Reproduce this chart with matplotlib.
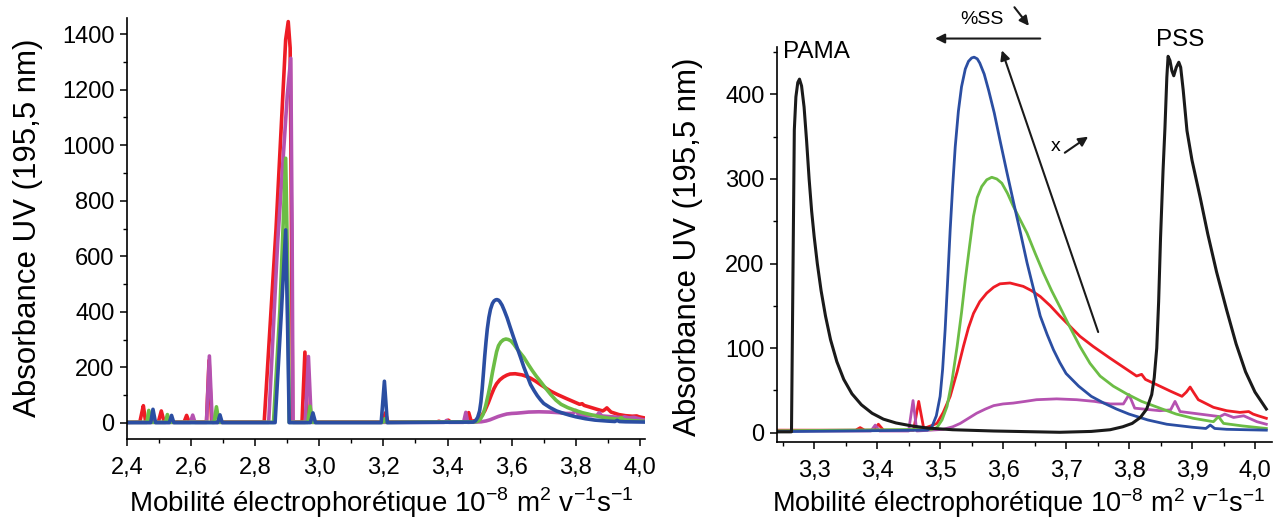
import matplotlib
matplotlib.use('Agg')
import matplotlib.pyplot as plt
from matplotlib.ticker import MultipleLocator, FuncFormatter

plt.rcParams['font.family'] = ['Liberation Sans', 'DejaVu Sans']
plt.rcParams['mathtext.fontset'] = 'custom'
plt.rcParams['mathtext.rm'] = 'Liberation Sans'

# electropherograms (mobility, absorbance)
red_x = [2.400, 2.440, 2.445, 2.451, 2.458, 2.498, 2.507, 2.516, 2.578, 2.586, 2.594,
         2.648, 2.656, 2.664, 2.828, 2.865, 2.895, 2.903, 2.909, 2.913, 2.917,
         2.946, 2.955, 2.963, 3.196, 3.206, 3.214, 3.366, 3.373, 3.380, 3.395, 3.402, 3.410,
         3.458, 3.466, 3.474, 3.485, 3.495, 3.505, 3.516, 3.527, 3.537, 3.545, 3.553,
         3.563, 3.574, 3.585, 3.595, 3.611, 3.632, 3.645, 3.659, 3.675, 3.690, 3.706,
         3.722, 3.743, 3.770, 3.796, 3.812, 3.820, 3.826, 3.849, 3.866, 3.884,
         3.891, 3.897, 3.903, 3.910, 3.934, 3.955, 3.976, 3.990, 3.997, 4.005, 4.018]
red_y = [2, 3, 30, 62, 4, 4, 43, 3, 3, 27, 3,
         3, 225, 3, 3, 700, 1380, 1445, 1350, 700, 3,
         3, 255, 3, 3, 36, 3, 3, 6, 3, 3, 10, 3,
         3, 37, 5, 8, 11, 24, 43, 72, 102, 124, 141,
         155, 165, 172, 176, 177, 173, 168, 161, 150, 138, 126,
         114, 102, 88, 75, 67, 69, 63, 55, 49, 43,
         48, 54, 47, 39, 30, 26, 24, 25, 22, 20, 17]

magenta_x = [2.400, 2.598, 2.605, 2.612, 2.648, 2.657, 2.666, 2.842, 2.870, 2.900,
             2.911, 2.915, 2.918, 2.956, 2.966, 2.975, 3.390, 3.397, 3.404, 3.450,
             3.457, 3.463, 3.485, 3.505, 3.520, 3.532, 3.545, 3.558, 3.572, 3.585,
             3.600, 3.616, 3.635, 3.653, 3.685, 3.717, 3.745, 3.770, 3.791, 3.800,
             3.809, 3.849, 3.866, 3.873, 3.881, 3.944, 3.952, 3.966, 3.982, 4.003, 4.018]
magenta_y = [2, 2, 28, 2, 2, 241, 2, 2, 650, 1180,
             1313, 700, 2, 2, 239, 2, 2, 9, 2, 2,
             38, 2, 3, 4, 7, 11, 17, 23, 28, 32,
             34, 35, 37, 39, 40, 39, 37, 34, 34, 45,
             29, 26, 27, 37, 25, 19, 22, 18, 20, 13, 10]

green_x = [2.400, 2.462, 2.468, 2.476, 2.520, 2.526, 2.533, 2.672, 2.679, 2.687,
           2.857, 2.877, 2.895, 2.902, 2.906, 2.964, 2.971, 2.978, 3.198, 3.204, 3.210,
           3.487, 3.495, 3.503, 3.511, 3.519, 3.527, 3.534, 3.540, 3.547, 3.553, 3.559,
           3.566, 3.574, 3.582, 3.590, 3.598, 3.607, 3.616, 3.627, 3.638, 3.651, 3.664,
           3.677, 3.690, 3.706, 3.722, 3.738, 3.754, 3.775, 3.796, 3.820, 3.849, 3.875,
           3.902, 3.934, 3.942, 3.950, 3.980, 4.018]
green_y = [2, 2, 45, 2, 2, 30, 2, 2, 58, 2,
           2, 407, 953, 500, 2, 2, 60, 2, 2, 15, 2,
           4, 6, 15, 31, 62, 102, 142, 181, 222, 256, 278,
           291, 299, 302, 300, 295, 283, 268, 252, 236, 212, 189,
           168, 149, 125, 102, 82, 67, 55, 46, 37, 29, 22,
           17, 13, 19, 11, 8, 5]

blue_x = [2.400, 2.474, 2.481, 2.489, 2.532, 2.539, 2.546, 2.683, 2.690, 2.697,
          2.862, 2.882, 2.895, 2.901, 2.906, 2.972, 2.980, 2.988, 3.193, 3.203, 3.212,
          3.480, 3.487, 3.494, 3.500, 3.504, 3.508, 3.512, 3.516, 3.520, 3.524, 3.529,
          3.534, 3.540, 3.545, 3.550, 3.554, 3.559, 3.563, 3.570, 3.577, 3.586, 3.595,
          3.606, 3.617, 3.628, 3.638, 3.649, 3.659, 3.670, 3.680, 3.690, 3.700, 3.720,
          3.740, 3.760, 3.780, 3.800, 3.830, 3.860, 3.900, 3.922, 3.929, 3.936, 3.955,
          3.985, 4.018]
blue_y = [1, 1, 49, 1, 1, 27, 1, 1, 29, 1,
          1, 407, 695, 350, 1, 1, 36, 1, 1, 150, 1,
          3, 7, 20, 43, 75, 122, 180, 240, 292, 338, 380,
          409, 430, 439, 443, 444, 442, 437, 424, 405, 378, 346,
          308, 271, 235, 201, 168, 138, 116, 98, 83, 70, 55,
          43, 35, 28, 22, 15, 10, 6.5, 5, 9, 5, 4,
          3.5, 3]

# PAMA and PSS references (right panel only)
black_x = [3.240, 3.264, 3.2655, 3.267, 3.2685, 3.271, 3.274, 3.2767, 3.280, 3.284,
           3.288, 3.292, 3.296, 3.300, 3.305, 3.311, 3.318, 3.326, 3.336, 3.347,
           3.360, 3.375, 3.392, 3.410, 3.430, 3.455, 3.480, 3.520, 3.585, 3.690,
           3.740, 3.770, 3.790, 3.805, 3.818, 3.828, 3.836, 3.840, 3.844, 3.847,
           3.850, 3.854, 3.857, 3.860, 3.862, 3.865, 3.868, 3.871, 3.875, 3.879,
           3.882, 3.886, 3.892, 3.900, 3.913, 3.925, 3.939, 3.955, 3.970, 3.985,
           4.000, 4.018]
black_y = [1, 1, 120, 240, 358, 397, 414, 418, 410, 385,
           345, 300, 262, 232, 200, 168, 138, 110, 84, 63,
           46, 33, 23, 16, 11.5, 8, 5.5, 3.5, 2, 0.5,
           1.5, 3.5, 7, 11, 18, 28, 45, 65, 100, 155,
           230, 310, 360, 420, 445, 440, 428, 422, 432, 438,
           432, 405, 357, 322, 278, 235, 190, 145, 105, 72,
           48, 28]

series = [(red_x, red_y, '#ee1c25'), (magenta_x, magenta_y, '#b552b0'),
          (green_x, green_y, '#6cbd45'), (blue_x, blue_y, '#2b4ea2')]

comma = FuncFormatter(lambda v, p: f"{v:.1f}".replace('.', ','))
xlabel = ('Mobilité électrophorétique 10$^{\\mathregular{-8}}$ m$^{\\mathregular{2}}$ '
          'v$^{\\mathregular{-1}}$s$^{\\mathregular{-1}}$')
ylabel = 'Absorbance UV (195,5 nm)'

fig = plt.figure(figsize=(12.74, 5.19), dpi=100)
ax1 = fig.add_axes([127 / 1274, 80 / 519, 518 / 1274, 421 / 519])
ax2 = fig.add_axes([777 / 1274, 77 / 519, 495 / 1274, 395 / 519])

for ax in (ax1, ax2):
    for s in ('top', 'right'):
        ax.spines[s].set_visible(False)
    ax.spines['left'].set_linewidth(1.2)
    ax.spines['bottom'].set_linewidth(1.2)
    ax.tick_params(which='major', direction='out', length=5, width=1.1, labelsize=17)
    ax.tick_params(which='minor', direction='out', length=3, width=1.0)
    ax.tick_params(axis='x', which='major', pad=8)
    ax.tick_params(axis='y', which='major', pad=4)
    ax.xaxis.set_major_formatter(comma)

# left panel: full range
for xs, ys, c in series:
    ax1.plot(xs, ys, color=c, lw=2.6, solid_joinstyle='round')
ax1.set_xlim(2.4, 4.016)
ax1.set_ylim(-58, 1458)
ax1.xaxis.set_major_locator(MultipleLocator(0.2))
ax1.xaxis.set_minor_locator(MultipleLocator(0.1))
ax1.yaxis.set_major_locator(MultipleLocator(200))
ax1.yaxis.set_minor_locator(MultipleLocator(100))

# right panel: zoom on the complex peaks
for xs, ys, c in series:
    ax2.plot(xs, ys, color=c, lw=2.0, solid_joinstyle='round')
ax2.plot(black_x, black_y, color='#1a1a1a', lw=2.2, solid_joinstyle='round')
ax2.set_xlim(3.241, 4.027)
ax2.set_ylim(-11, 456)
ax2.xaxis.set_major_locator(MultipleLocator(0.1))
ax2.xaxis.set_minor_locator(MultipleLocator(0.05))
ax2.yaxis.set_major_locator(MultipleLocator(100))
ax2.yaxis.set_minor_locator(MultipleLocator(50))

ax2.text(3.251, 450, 'PAMA', fontsize=17.5, ha='left', va='center')
ax2.text(3.881, 464, 'PSS', fontsize=17.5, ha='center', va='center')
ax2.text(3.567, 489, '%SS', fontsize=14, ha='center', va='center')
ax2.text(3.683, 338, 'x', fontsize=14, ha='center', va='center')

arrow = dict(arrowstyle='-|>', color='#1a1a1a', lw=1.5, mutation_scale=14,
             shrinkA=0, shrinkB=0)
ax2.annotate('', xy=(3.492, 466), xytext=(3.659, 466), arrowprops=arrow, annotation_clip=False)
ax2.annotate('', xy=(3.641, 481), xytext=(3.618, 503), arrowprops=arrow, annotation_clip=False)
ax2.annotate('', xy=(3.598, 452), xytext=(3.751, 119), arrowprops=arrow, annotation_clip=False)
ax2.annotate('', xy=(3.735, 350), xytext=(3.698, 331), arrowprops=arrow, annotation_clip=False)

fig.text(28 / 1274, 1 - 228 / 519, ylabel, rotation=90, fontsize=22.5, ha='center', va='center')
fig.text(688 / 1274, 1 - 247 / 519, ylabel, rotation=90, fontsize=22.5, ha='center', va='center')
fig.text(381 / 1274, 7 / 519, xlabel, fontsize=20, ha='center', va='baseline')
fig.text(1019 / 1274, 7 / 519, xlabel, fontsize=19.5, ha='center', va='baseline')

fig.savefig('out.png', dpi=100)
